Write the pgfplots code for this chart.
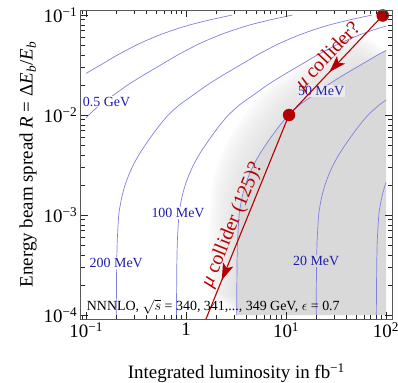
\documentclass[border=0pt]{standalone}
\usepackage{fontspec}
\setmainfont{Liberation Serif}
\usepackage{pgfplots}
\usepackage{pgfplotstable}
\pgfplotsset{compat=1.18}
\usetikzlibrary{decorations.markings,arrows.meta}
\definecolor{cline}{RGB}{128,128,224}
\definecolor{clab}{RGB}{30,30,170}
\definecolor{mured}{RGB}{180,0,0}
\definecolor{shade}{RGB}{217,217,217}

% 50 MeV contour closed with the lower right corner: shaded region
\pgfplotstableread{
L R
3.2 1e-4
3.229 3.16e-4
3.274 5.62e-4
3.389 1e-3
3.507 1.259e-3
3.674 1.585e-3
3.92 1.995e-3
4.269 2.512e-3
4.733 3.162e-3
5.373 3.981e-3
6.24 5.012e-3
7.331 6.31e-3
8.714 7.943e-3
10.6 0.01
13.65 0.01259
18.84 0.01585
26.01 0.01995
37.6 0.02512
55.62 0.03162
82.24 0.03981
100 0.0442
100 1e-4
}\regionC

\begin{document}
\begin{tikzpicture}
\begin{axis}[name=ax, xmode=log, ymode=log, scale only axis,
  width=311.3bp, height=309bp,
  xmin=0.0881, xmax=114.8, ymin=9.12e-5, ymax=0.1122,
  xtick={0.1,1,10,100},
  xticklabels={10\textsuperscript{−1},1,10\textsuperscript{1},10\textsuperscript{2}},
  ytick={1e-4,1e-3,1e-2,0.1},
  yticklabels={10\textsuperscript{−4},10\textsuperscript{−3},10\textsuperscript{−2},10\textsuperscript{−1}},
  minor xtick={0.09,0.2,0.3,0.4,0.5,0.6,0.7,0.8,0.9,2,3,4,5,6,7,8,9,20,30,40,50,60,70,80,90},
  minor ytick={2e-4,3e-4,4e-4,5e-4,6e-4,7e-4,8e-4,9e-4,2e-3,3e-3,4e-3,5e-3,6e-3,7e-3,8e-3,9e-3,0.02,0.03,0.04,0.05,0.06,0.07,0.08,0.09},
  tick label style={font=\fontsize{19}{22}\selectfont},
  label style={font=\fontsize{19}{22}\selectfont},
  major tick length=7bp, minor tick length=4bp,
  axis line style={black!65}, tick style={black!85},
  xlabel={Integrated luminosity in fb\textsuperscript{−1}},
  ylabel={Energy beam spread \textit{R} = Δ\textit{E}\textsubscript{\textit{b}}/\textit{E}\textsubscript{\textit{b}}},
  xlabel style={yshift=-19bp},
  axis on top, clip mode=individual,
]
% soft edge of the shaded region
\addplot[fill=shade, draw=none, fill opacity=0.12, xshift=-28bp, yshift=20bp] table[x=L,y=R] {\regionC};
\addplot[fill=shade, draw=none, fill opacity=0.12, xshift=-25bp, yshift=18bp] table[x=L,y=R] {\regionC};
\addplot[fill=shade, draw=none, fill opacity=0.12, xshift=-22bp, yshift=16bp] table[x=L,y=R] {\regionC};
\addplot[fill=shade, draw=none, fill opacity=0.12, xshift=-19bp, yshift=14bp] table[x=L,y=R] {\regionC};
\addplot[fill=shade, draw=none, fill opacity=0.12, xshift=-16bp, yshift=12bp] table[x=L,y=R] {\regionC};
\addplot[fill=shade, draw=none, fill opacity=0.12, xshift=-13bp, yshift=10bp] table[x=L,y=R] {\regionC};
\addplot[fill=shade, draw=none, fill opacity=0.12, xshift=-10bp, yshift=8bp] table[x=L,y=R] {\regionC};
\addplot[fill=shade, draw=none, fill opacity=0.12, xshift=-7.5bp, yshift=6bp] table[x=L,y=R] {\regionC};
\addplot[fill=shade, draw=none, fill opacity=0.12, xshift=-5bp, yshift=4bp] table[x=L,y=R] {\regionC};
\addplot[fill=shade, draw=none, fill opacity=0.12, xshift=-2.5bp, yshift=2bp] table[x=L,y=R] {\regionC};
\addplot[fill=shade, draw=none] table[x=L,y=R] {\regionC};

% contours
% 1 GeV
\addplot[cline, line width=0.7bp, smooth, tension=0.4] coordinates {
(0.1,0.0261) (0.139,0.03162) (0.2056,0.03981) (0.3185,0.05012) (0.4104,0.05623)
(0.5409,0.0631) (0.7464,0.07079) (1.079,0.07943) (1.710,0.08913) (2.905,0.1)};
% 0.5 GeV
\addplot[cline, line width=0.7bp, smooth, tension=0.4] coordinates {
(0.1,0.00935) (0.106,0.01) (0.1365,0.01259) (0.1884,0.01585) (0.2601,0.01995)
(0.376,0.02512) (0.5562,0.03162) (0.8224,0.03981) (1.274,0.05012) (1.642,0.05623)
(2.164,0.0631) (2.986,0.07079) (4.317,0.07943) (6.842,0.08913) (11.62,0.1)};
% 200 MeV
\addplot[cline, line width=0.7bp, smooth, tension=0.4] coordinates {
(0.2,1e-4) (0.2018,3.16e-4) (0.2046,5.62e-4) (0.2118,1e-3) (0.2192,1.259e-3)
(0.2296,1.585e-3) (0.245,1.995e-3) (0.2668,2.512e-3) (0.2958,3.162e-3) (0.3358,3.981e-3)
(0.390,5.012e-3) (0.4582,6.31e-3) (0.5446,7.943e-3) (0.6622,0.01) (0.8532,0.01259)
(1.178,0.01585) (1.626,0.01995) (2.35,0.02512) (3.476,0.03162) (5.14,0.03981)
(7.962,0.05012) (10.26,0.05623) (13.52,0.0631) (18.66,0.07079) (26.98,0.07943)
(42.76,0.08913) (72.62,0.1)};
% 100 MeV
\addplot[cline, line width=0.7bp, smooth, tension=0.4] coordinates {
(0.8,1e-4) (0.807,3.16e-4) (0.818,5.62e-4) (0.847,1e-3) (0.877,1.259e-3)
(0.918,1.585e-3) (0.98,1.995e-3) (1.067,2.512e-3) (1.183,3.162e-3) (1.343,3.981e-3)
(1.56,5.012e-3) (1.833,6.31e-3) (2.178,7.943e-3) (2.649,0.01) (3.413,0.01259)
(4.71,0.01585) (6.502,0.01995) (9.40,0.02512) (13.9,0.03162) (20.56,0.03981)
(31.85,0.05012) (41.04,0.05623) (54.09,0.0631) (74.64,0.07079) (100,0.0776)};
% 50 MeV
\addplot[cline, line width=0.7bp, smooth, tension=0.4] coordinates {
(3.2,1e-4) (3.229,3.16e-4) (3.274,5.62e-4) (3.389,1e-3) (3.507,1.259e-3)
(3.674,1.585e-3) (3.92,1.995e-3) (4.269,2.512e-3) (4.733,3.162e-3) (5.373,3.981e-3)
(6.24,5.012e-3) (7.331,6.31e-3) (8.714,7.943e-3) (10.6,0.01) (13.65,0.01259)
(18.84,0.01585) (26.01,0.01995) (37.6,0.02512) (55.62,0.03162) (82.24,0.03981) (100,0.0442)};
% 20 MeV
\addplot[cline, line width=0.7bp, smooth, tension=0.4] coordinates {
(20,1e-4) (20.18,3.16e-4) (20.46,5.62e-4) (21.18,1e-3) (21.92,1.259e-3)
(22.96,1.585e-3) (24.5,1.995e-3) (26.68,2.512e-3) (29.58,3.162e-3) (33.58,3.981e-3)
(39.0,5.012e-3) (45.82,6.31e-3) (54.46,7.943e-3) (66.22,0.01) (85.32,0.01259) (100,0.0141)};
% 10 MeV
\addplot[cline, line width=0.7bp, smooth, tension=0.4] coordinates {
(80,1e-4) (80.72,3.16e-4) (81.84,5.62e-4) (84.72,1e-3) (87.68,1.259e-3)
(91.84,1.585e-3) (98.0,1.995e-3) (100,2.11e-3)};

% contour labels
\node[clab, font=\fontsize{14}{16}\selectfont, fill=white, inner sep=1bp] at (axis cs:0.16,0.0136) {0.5 GeV};
\node[clab, font=\fontsize{14}{16}\selectfont, fill=white, inner sep=1bp] at (axis cs:0.2,3.3e-4) {200 MeV};
\node[clab, font=\fontsize{14}{16}\selectfont, fill=white, inner sep=1bp] at (axis cs:0.83,1.05e-3) {100 MeV};
\node[clab, font=\fontsize{14}{16}\selectfont, fill=black!8, inner sep=1bp] at (axis cs:22.4,0.0174) {50 MeV};
\node[clab, font=\fontsize{14}{16}\selectfont, fill=shade, inner sep=1bp] at (axis cs:20,3.45e-4) {20 MeV};

% muon collider paths
\addplot[mured, line width=1.1bp, postaction={decorate},
  decoration={markings, mark=at position 0.57 with {\arrow{Stealth[length=17bp,width=11bp,inset=4bp]}}}]
  coordinates {(92.7,0.0989) (10.7,0.01)};
\addplot[mured, line width=1.1bp, postaction={decorate},
  decoration={markings, mark=at position 0.81 with {\arrow{Stealth[length=17bp,width=11bp,inset=4bp]}}}]
  coordinates {(10.7,0.01) (1.58,9.12e-5)};
\addplot[only marks, mark=*, mark size=6bp, mured] coordinates {(92.7,0.0989) (10.7,0.01)};

\node[mured, rotate=46.8, font=\fontsize{20}{22}\selectfont] at (axis cs:26.5,0.0385) {\textit{μ} collider?};
\node[mured, rotate=67.7, font=\fontsize{20}{22}\selectfont] at (axis cs:2.9,7.9e-4) {\textit{μ} collider (125)?};

\node[anchor=base west, inner sep=0.5bp, font=\fontsize{14}{16}\selectfont] at (axis cs:0.1,1.1e-4)
  {NNNLO, $\sqrt{s}$ = 340, 341,..., 349 GeV, $\epsilon$ = 0.7};
\end{axis}
\pgfresetboundingbox
\path[use as bounding box] ([shift={(-80.7bp,-64bp)}]ax.south west) rectangle ([shift={(6bp,10bp)}]ax.north east);
\end{tikzpicture}
\end{document}
